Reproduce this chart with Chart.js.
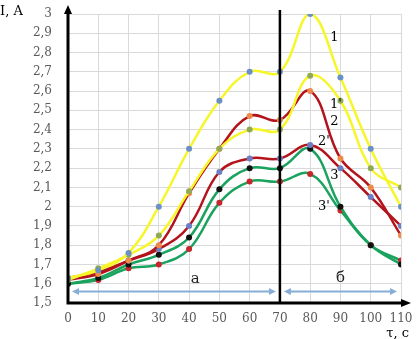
<!DOCTYPE html>
<html lang="ru">
<head>
    <meta charset="UTF-8">
    <title>I(τ)</title>
    <script src="https://cdn.jsdelivr.net/npm/chart.js"></script>
    <style>
        body {
            margin: 0;
            padding: 0;
            background: white;
        }
        canvas {
            display: block;
        }
    </style>
</head>
<body>
    <canvas id="chart" width="418" height="339"></canvas>

    <script>
        // time, s
        const times = [0, 10, 20, 30, 40, 50, 60, 70, 80, 90, 100, 110];
        // current, A
        const curve1 = [1.63, 1.67, 1.76, 2.0, 2.3, 2.55, 2.7, 2.7, 3.0, 2.67, 2.3, 2.0];
        const curve1p = [1.62, 1.68, 1.75, 1.85, 2.08, 2.3, 2.4, 2.4, 2.68, 2.55, 2.2, 2.1];
        const curve2 = [1.62, 1.65, 1.72, 1.8, 2.07, 2.3, 2.47, 2.45, 2.6, 2.25, 2.1, 1.85];
        const curve2p = [1.63, 1.66, 1.72, 1.78, 1.9, 2.18, 2.25, 2.25, 2.32, 2.2, 2.05, 1.9];
        const curve3 = [1.6, 1.63, 1.7, 1.75, 1.84, 2.09, 2.2, 2.2, 2.3, 2.0, 1.8, 1.7];
        const curve3p = [1.6, 1.62, 1.68, 1.7, 1.78, 2.02, 2.13, 2.13, 2.17, 1.98, 1.8, 1.72];

        // curve labels: [text, t, I]
        const curveLabels = [
            ['1', 88, 2.875],
            ["1'", 88.5, 2.53],
            ['2', 88, 2.44],
            ["2'", 84.5, 2.335],
            ['3', 88, 2.16],
            ["3'", 84.5, 2.0]
        ];

        const serif = '"DejaVu Serif", "Liberation Serif", serif';

        function toPoints(values) {
            return values.map((v, i) => ({ x: times[i], y: v }));
        }

        function series(label, values, lineColor, pointColor) {
            return {
                label: label,
                data: toPoints(values),
                borderColor: lineColor,
                backgroundColor: pointColor,
                pointBackgroundColor: pointColor,
                pointBorderColor: pointColor,
                pointRadius: 3,
                pointBorderWidth: 0,
                borderWidth: 2.5,
                tension: 0.4,
                fill: false
            };
        }

        function arrowHead(ctx, x, y, angle, len, half, color) {
            ctx.save();
            ctx.translate(x, y);
            ctx.rotate(angle);
            ctx.fillStyle = color;
            ctx.beginPath();
            ctx.moveTo(0, 0);
            ctx.lineTo(-len, -half);
            ctx.lineTo(-len, half);
            ctx.closePath();
            ctx.fill();
            ctx.restore();
        }

        const extras = {
            id: 'extras',
            afterDatasetsDraw(chart) {
                const ctx = chart.ctx;
                const a = chart.chartArea;
                const x = chart.scales.x;
                const y = chart.scales.y;
                ctx.save();

                // boundary between stages a / б
                ctx.strokeStyle = 'black';
                ctx.lineWidth = 2.5;
                ctx.beginPath();
                ctx.moveTo(x.getPixelForValue(70), 10);
                ctx.lineTo(x.getPixelForValue(70), a.bottom);
                ctx.stroke();

                // axes with arrows
                ctx.lineWidth = 3;
                ctx.beginPath();
                ctx.moveTo(a.left, a.bottom);
                ctx.lineTo(a.left, 12);
                ctx.moveTo(a.left - 1.5, a.bottom);
                ctx.lineTo(402, a.bottom);
                ctx.stroke();
                arrowHead(ctx, a.left, 5, -Math.PI / 2, 9, 4, 'black');
                arrowHead(ctx, 411, a.bottom, 0, 10, 4, 'black');

                // stage ranges
                const blue = '#86aed6';
                const ay = y.getPixelForValue(1.56);
                const ranges = [[0, 70], [70, 110]];
                ctx.strokeStyle = blue;
                ctx.lineWidth = 2;
                ranges.forEach(r => {
                    const x0 = x.getPixelForValue(r[0]) + 4;
                    const x1 = x.getPixelForValue(r[1]) - 4;
                    ctx.beginPath();
                    ctx.moveTo(x0 + 4, ay);
                    ctx.lineTo(x1 - 4, ay);
                    ctx.stroke();
                    arrowHead(ctx, x0, ay, Math.PI, 7, 3.5, blue);
                    arrowHead(ctx, x1, ay, 0, 7, 3.5, blue);
                });

                ctx.fillStyle = '#222';
                ctx.font = '15px ' + serif;
                ctx.textAlign = 'center';
                ctx.textBaseline = 'middle';
                ctx.fillText('a', x.getPixelForValue(42), y.getPixelForValue(1.625));
                ctx.fillText('б', x.getPixelForValue(90), y.getPixelForValue(1.63));

                // curve numbers
                ctx.font = '13px ' + serif;
                ctx.fillStyle = 'black';
                curveLabels.forEach(l => {
                    ctx.fillText(l[0], x.getPixelForValue(l[1]), y.getPixelForValue(l[2]));
                });

                // axis titles
                ctx.textAlign = 'left';
                ctx.textBaseline = 'alphabetic';
                ctx.font = '13px ' + serif;
                ctx.fillText('I, A', 0, 15);
                ctx.textAlign = 'right';
                ctx.fillText('τ, c', 409, 337);

                ctx.restore();
            }
        };

        const ctx = document.getElementById('chart').getContext('2d');

        new Chart(ctx, {
            type: 'line',
            data: {
                datasets: [
                    series('1', curve1, '#f6f62a', '#6b8fc9'),
                    series("1'", curve1p, '#f6f62a', '#8fa957'),
                    series('2', curve2, '#b3141c', '#ee8a4a'),
                    series("2'", curve2p, '#b3141c', '#6b7fc4'),
                    series('3', curve3, '#1aa35e', '#111111'),
                    series("3'", curve3p, '#1aa35e', '#c8242b')
                ]
            },
            options: {
                responsive: false,
                animation: false,
                devicePixelRatio: 1,
                layout: {
                    padding: { left: 0, top: 14, right: 17, bottom: 0 }
                },
                plugins: {
                    legend: { display: false },
                    tooltip: { enabled: false }
                },
                scales: {
                    x: {
                        type: 'linear',
                        min: 0,
                        max: 110,
                        afterFit: function(scale) { scale.height = 36; },
                        border: { display: false },
                        // invisible tick marks keep the labels off the axis
                        grid: {
                            color: '#d9d9d9', lineWidth: 1,
                            drawTicks: true, tickLength: 9, tickColor: 'rgba(0,0,0,0)'
                        },
                        ticks: {
                            stepSize: 10,
                            padding: 0,
                            color: '#5a5a5a',
                            font: { family: serif, size: 12 }
                        }
                    },
                    y: {
                        min: 1.5,
                        max: 3,
                        afterFit: function(scale) { scale.width = 68; },
                        border: { display: false },
                        grid: {
                            color: '#d9d9d9', lineWidth: 1,
                            drawTicks: true, tickLength: 16, tickColor: 'rgba(0,0,0,0)'
                        },
                        ticks: {
                            stepSize: 0.1,
                            padding: 0,
                            color: '#5a5a5a',
                            font: { family: serif, size: 12 },
                            callback: function(v) {
                                return String(Math.round(v * 10) / 10).replace('.', ',');
                            }
                        }
                    }
                }
            },
            plugins: [extras]
        });
    </script>
</body>
</html>
